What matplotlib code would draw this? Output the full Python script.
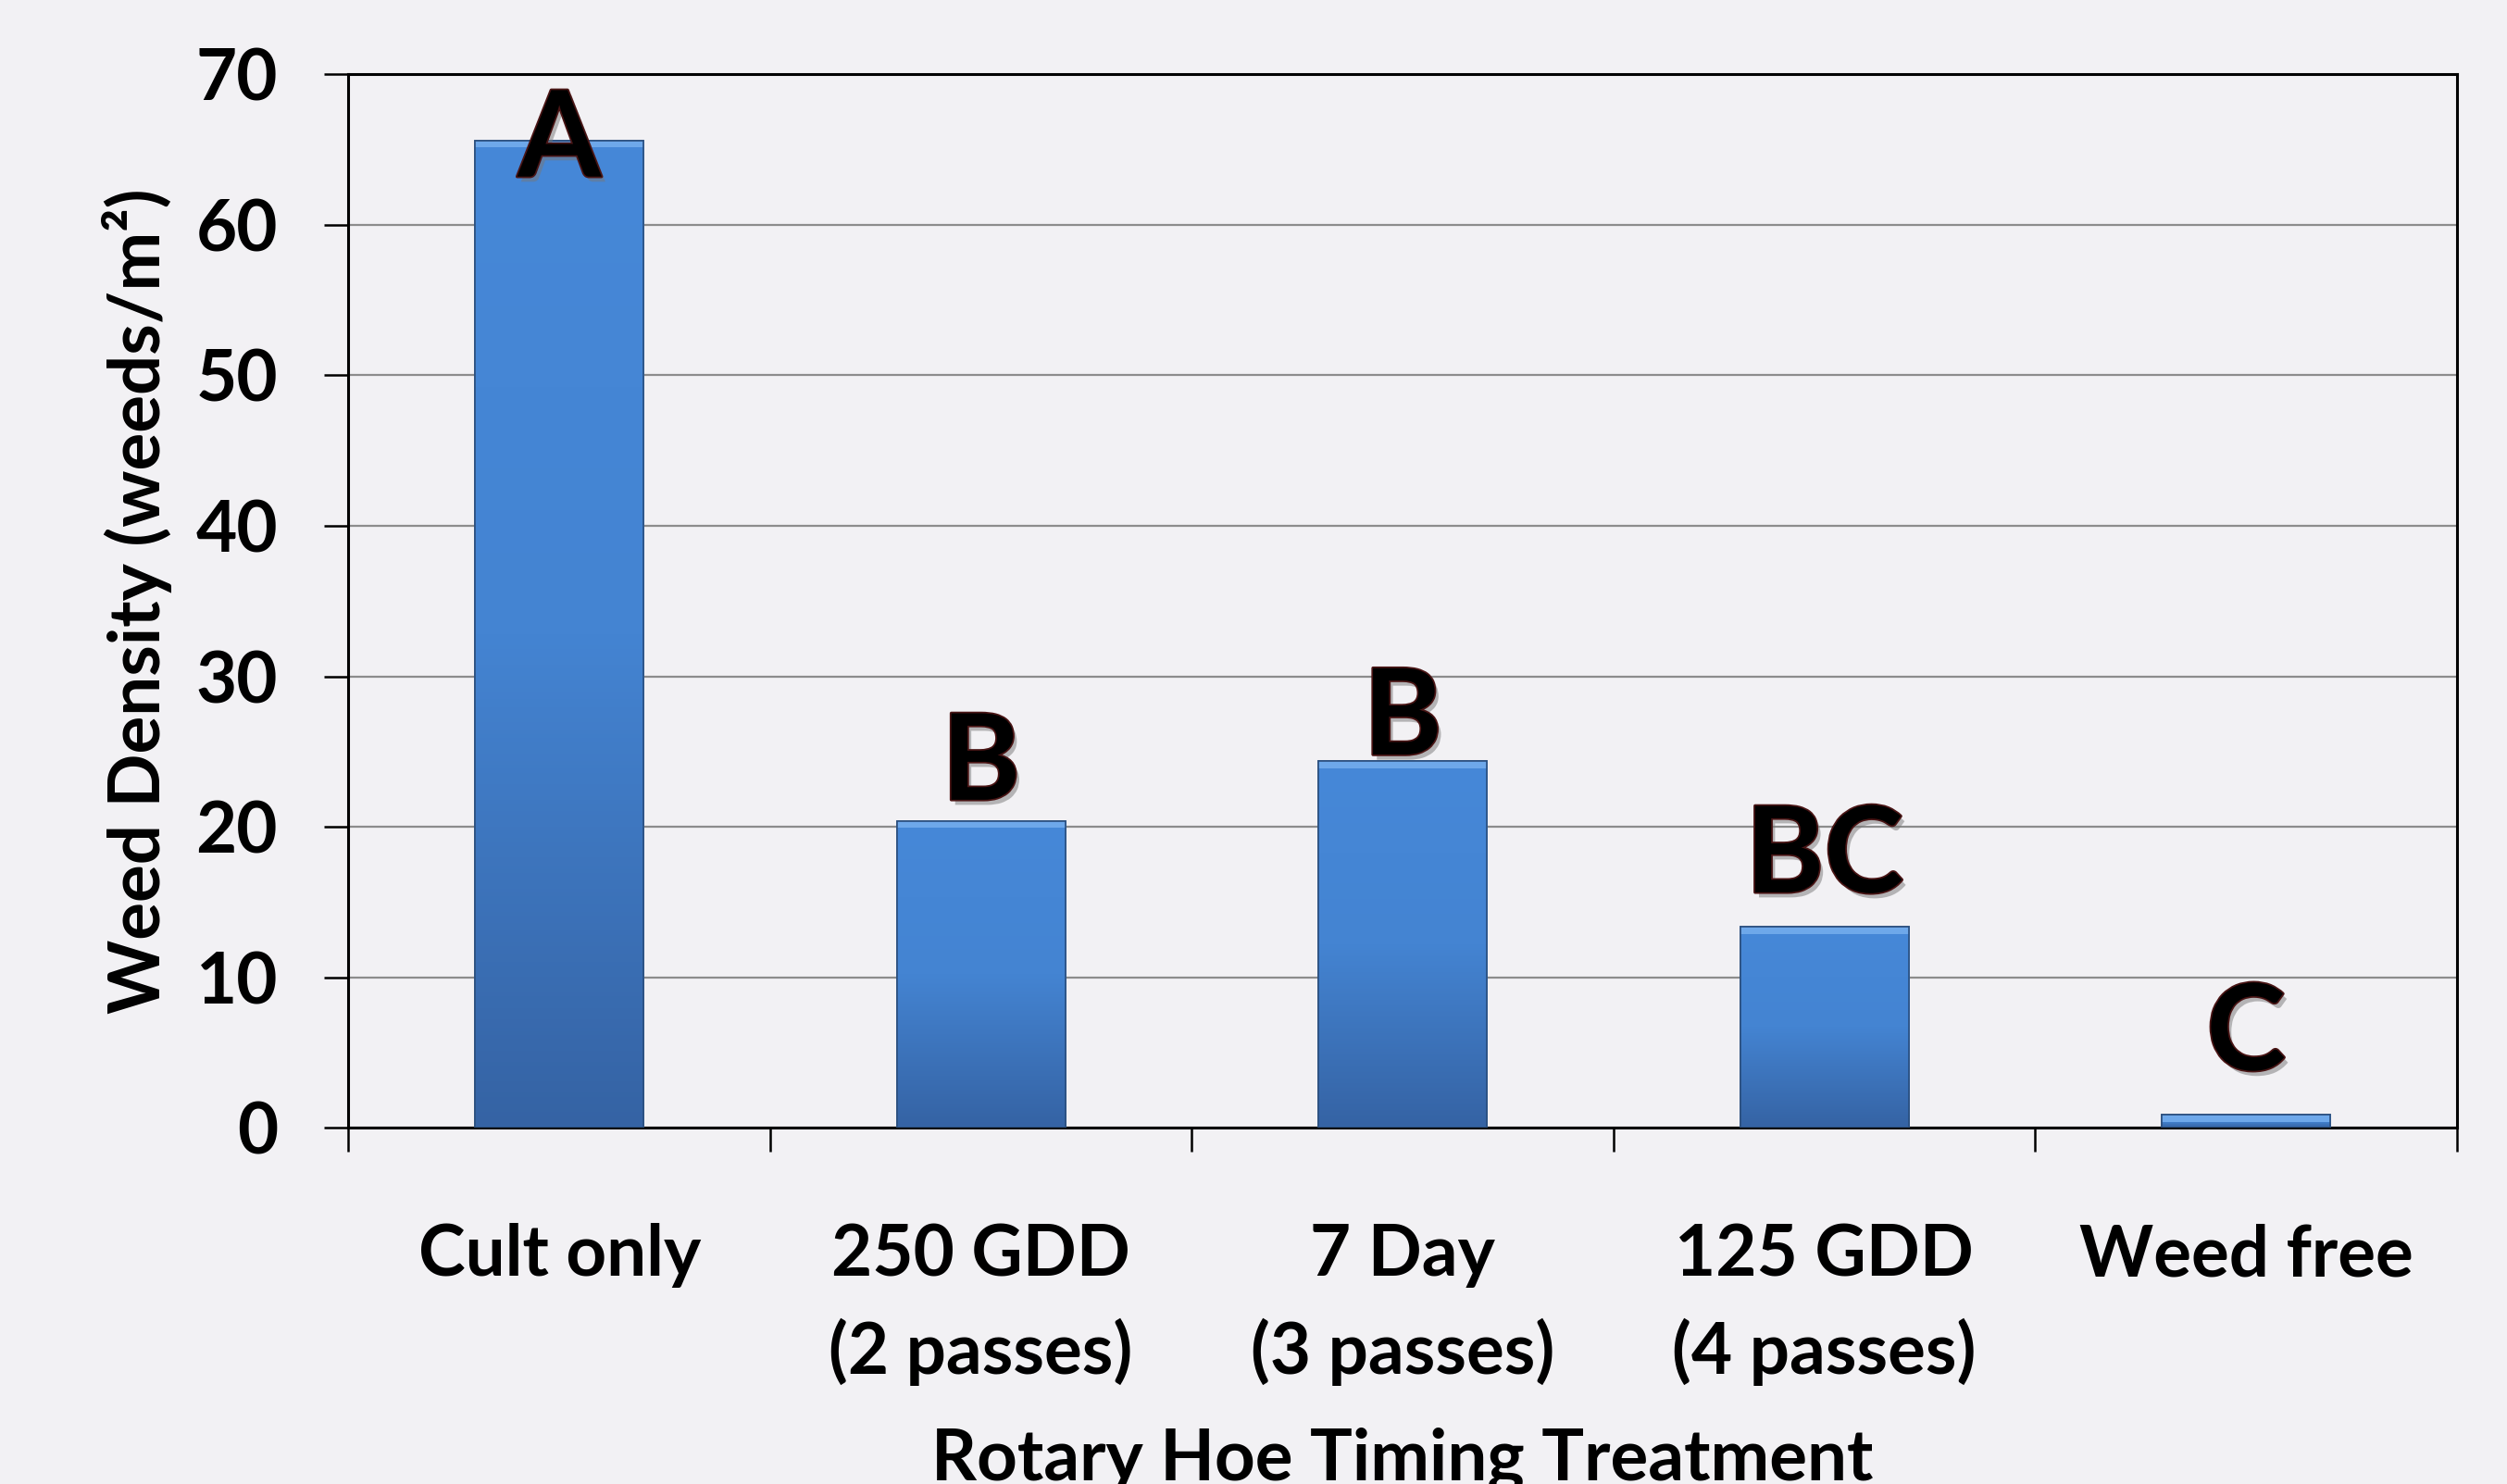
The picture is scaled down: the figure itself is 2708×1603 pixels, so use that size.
import numpy as np
import matplotlib
matplotlib.use('Agg')
import matplotlib.pyplot as plt
import matplotlib.patheffects as pe
from matplotlib.colors import LinearSegmentedColormap
from matplotlib.ticker import FixedLocator

# data
treatments = ['Cult only', '250 GDD\n(2 passes)', '7 Day\n(3 passes)',
              '125 GDD\n(4 passes)', 'Weed free']
weed_density = [65.6, 20.4, 24.35, 13.35, 0.85]
letters = ['A', 'B', 'B', 'BC', 'C']
letter_gap = [-2.4, 1.4, 0.45, 2.3, 3.0]  # gap between bar top and letter, in weeds/m2

bg = '#f2f1f4'
plt.rcParams['font.family'] = ['Lato', 'DejaVu Sans']
plt.rcParams['font.weight'] = 'bold'

fig = plt.figure(figsize=(27.08, 16.03), dpi=100, facecolor=bg)
ax = fig.add_axes([0.139, 0.240, 0.841, 0.710], facecolor=bg)

x = np.arange(len(treatments))
bars = ax.bar(x, weed_density, width=0.4, color='#3f7cc8', edgecolor='#2b4f7e',
              linewidth=1.2, zorder=3)

# vertical gradient inside each bar
cmap = LinearSegmentedColormap.from_list('barfill', ['#3563a4', '#4484d2', '#4688d8'])
grad = np.linspace(0, 1, 256).reshape(-1, 1)
for b in bars:
    x0, y0 = b.get_x(), b.get_y()
    w, h = b.get_width(), b.get_height()
    im = ax.imshow(grad, cmap=cmap, origin='lower', aspect='auto',
                   extent=(x0, x0 + w, y0, y0 + h), zorder=3.5)
    im.set_clip_path(b)
    # light bevel strip along the top
    ax.bar(x0 + w / 2, min(0.45, h), bottom=y0 + h - min(0.45, h), width=w,
           color='#6ea8ea', linewidth=0, zorder=3.6)
    ax.bar(x0 + w / 2, h, bottom=y0, width=w, fill=False,
           edgecolor='#2b4f7e', linewidth=1.2, zorder=3.7)

letter_fx = [pe.SimplePatchShadow(offset=(3, -4), shadow_rgbFace='#777777', alpha=0.5),
             pe.withStroke(linewidth=2.5, foreground='#4a1515')]
for xi, val, lab, gap in zip(x, weed_density, letters, letter_gap):
    ax.text(xi, val + gap, lab, ha='center', va='baseline', fontsize=93,
            fontweight='bold', color='black', zorder=5, path_effects=letter_fx)

ax.set_xlim(-0.5, len(treatments) - 0.5)
ax.set_ylim(0, 70)
ax.set_yticks(np.arange(0, 71, 10))
ax.grid(axis='y', color='#8c8c8c', linewidth=1.6, zorder=0)

ax.set_xticks(x)
ax.set_xticklabels(treatments, fontsize=55, fontweight='bold', linespacing=1.55)
ax.xaxis.set_minor_locator(FixedLocator(np.arange(-0.5, len(treatments), 1.0)))
ax.tick_params(axis='x', which='major', length=0, pad=74)
ax.tick_params(axis='x', which='minor', length=19, width=1.8, color='black', direction='out')
ax.tick_params(axis='y', length=19, width=1.8, color='black', direction='out',
               labelsize=55, pad=36)
for lbl in ax.get_yticklabels():
    lbl.set_fontweight('bold')

for s in ax.spines.values():
    s.set_color('black')
    s.set_linewidth(2.2)

ax.set_ylabel('Weed Density (weeds/m²)', fontsize=55, fontweight='bold', va='center')
ax.yaxis.set_label_coords(-0.1005, 0.5)
ax.set_xlabel('Rotary Hoe Timing Treatment', fontsize=55, fontweight='bold', va='baseline')
ax.xaxis.set_label_coords(0.5, -0.334)

fig.savefig('out.png', dpi=100, facecolor=bg)
